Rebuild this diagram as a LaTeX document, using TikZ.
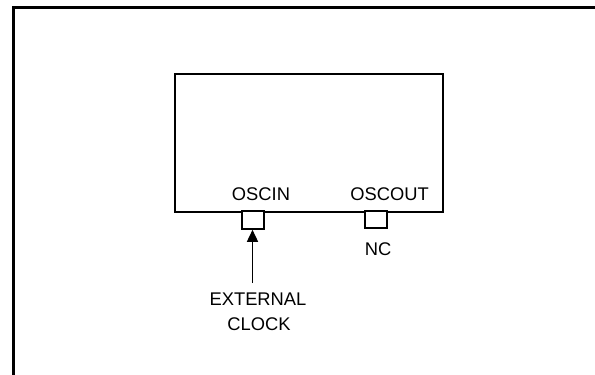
\documentclass[tikz,border=0pt]{standalone}
\usepackage{fontspec}
\setmainfont{Liberation Sans}
\usetikzlibrary{arrows.meta}
\begin{document}
\begin{tikzpicture}[x=1bp,y=-1bp,
  lbl/.style={font=\fontsize{18.4}{20}\selectfont, inner sep=0pt, anchor=base},
  pin/.style={draw, line width=1.6bp, fill=white, inner sep=0pt},
  wire/.style={line width=1.6bp}]
\useasboundingbox (0,0) rectangle (595,374);
\clip (0,0) rectangle (595,374);
% outer frame
\draw[line width=2.6bp] (13.5,380) -- (13.5,7.5) -- (600,7.5);
% device box
\node[draw, line width=1.6bp, minimum width=268bp, minimum height=138bp, inner sep=0pt] (dev) at (309,143) {};
% pins
\node[pin, minimum width=22bp, minimum height=18bp] (oscin) at (253,220) {};
\node[pin, minimum width=21.5bp, minimum height=17bp] (oscout) at (376,219.5) {};
% labels
\node[lbl] (loscin) at (261,200) {OSCIN};
\node[lbl] (loscout) at (389.5,200) {OSCOUT};
\node[lbl] (nc) at (378,255) {NC};
\node[lbl] (ext) at (258,305) {EXTERNAL};
\node[lbl] (clk) at (259,330) {CLOCK};
% arrow
\coordinate (src) at (252.5,283);
\draw[wire, -{Triangle[length=12bp,width=11bp]}] (src) -- (src |- oscin.south);
\end{tikzpicture}
\end{document}
